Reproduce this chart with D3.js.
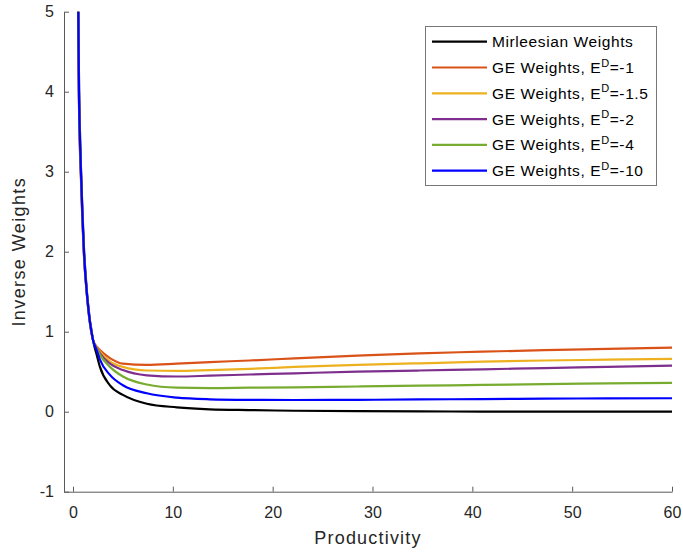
<!DOCTYPE html>
<html>
<head>
<meta charset="utf-8">
<script src="https://cdn.jsdelivr.net/npm/d3@7"></script>
<style>
  html, body { margin: 0; padding: 0; background: #fff; }
  svg { display: block; font-family: "Liberation Sans", Arial, sans-serif; }
</style>
</head>
<body>
<svg id="chart" width="683" height="554"></svg>
<script>
// Productivity grid shared by all series
const productivity = [0.45, 0.53, 0.6, 0.7, 0.8, 0.95, 1.1, 1.45, 2.0, 2.4, 2.7, 3.7, 5.0, 7.4, 10.4, 13.7, 17.7, 22.2, 28.5, 34.7, 41, 47.2, 53.5, 60];

// Inverse weights per series
const mirrleesian = [6.8, 5.2, 4.2, 3.5, 3.05, 2.5, 2.05, 1.42, 0.90, 0.70, 0.56, 0.33, 0.21, 0.10, 0.055, 0.03, 0.02, 0.012, 0.006, 0.003, 0.002, 0.001, 0.0, 0.0];
const geEd1   = [6.1, 4.8, 3.85, 3.25, 2.9, 2.36, 1.95, 1.38, 0.90, 0.81, 0.77, 0.67, 0.60, 0.585, 0.60, 0.62, 0.64, 0.667, 0.70, 0.73, 0.75, 0.77, 0.785, 0.80];
const geEd15  = [6.2, 4.85, 3.88, 3.28, 2.93, 2.38, 1.96, 1.38, 0.90, 0.80, 0.75, 0.63, 0.56, 0.515, 0.51, 0.52, 0.535, 0.56, 0.585, 0.605, 0.625, 0.64, 0.65, 0.66];
const geEd2   = [6.3, 4.9, 3.9, 3.3, 2.95, 2.4, 1.97, 1.39, 0.90, 0.79, 0.73, 0.60, 0.52, 0.455, 0.44, 0.45, 0.465, 0.48, 0.50, 0.515, 0.53, 0.545, 0.56, 0.575];
const geEd4   = [6.4, 4.95, 3.95, 3.35, 2.97, 2.42, 1.98, 1.39, 0.90, 0.78, 0.71, 0.56, 0.44, 0.34, 0.30, 0.295, 0.30, 0.305, 0.315, 0.325, 0.335, 0.345, 0.353, 0.36];
const geEd10  = [6.5, 5.0, 4.0, 3.4, 3.0, 2.45, 2.0, 1.4, 0.90, 0.76, 0.65, 0.46, 0.33, 0.23, 0.175, 0.155, 0.148, 0.146, 0.148, 0.153, 0.158, 0.163, 0.166, 0.168];

const seriesNames = ["Mirleesian Weights", "GE Weights, E", "GE Weights, E", "GE Weights, E", "GE Weights, E", "GE Weights, E"];
const seriesSup = ["", "D", "D", "D", "D", "D"];
const seriesSuffix = ["", "=-1", "=-1.5", "=-2", "=-4", "=-10"];
const seriesColors = ["#000000", "#D95319", "#EDB120", "#7E2F8E", "#77AC30", "#0000FF"];
const seriesValues = [mirrleesian, geEd1, geEd15, geEd2, geEd4, geEd10];

const xTicks = [0, 10, 20, 30, 40, 50, 60];
const yTicks = [-1, 0, 1, 2, 3, 4, 5];

const svg = d3.select("#chart");
const plotLeft = 64, plotRight = 672, plotTop = 11.7, plotBottom = 491.7;

const x = d3.scaleLinear().domain([-0.9, 60]).range([plotLeft, plotRight]);
const y = d3.scaleLinear().domain([-1, 5]).range([plotBottom, plotTop]);

const axisColor = "#5a5a5a";
const textColor = "#262626";

svg.append("defs").append("clipPath").attr("id", "plotClip")
  .append("rect").attr("x", plotLeft).attr("y", plotTop)
  .attr("width", plotRight - plotLeft).attr("height", plotBottom - plotTop);

// Series lines
const line = d3.line().x(d => x(d[0])).y(d => y(d[1])).curve(d3.curveMonotoneX);
const plot = svg.append("g").attr("clip-path", "url(#plotClip)");
seriesValues.forEach((vals, i) => {
  plot.append("path")
    .datum(productivity.map((p, k) => [p, vals[k]]))
    .attr("d", line)
    .attr("fill", "none")
    .attr("stroke", seriesColors[i])
    .attr("stroke-width", 2.2)
    .attr("stroke-linejoin", "round");
});

// Axes (ticks point inward, plain hyphen for negatives)
const plain = d => String(d);
const xAxis = d3.axisBottom(x).tickValues(xTicks).tickFormat(plain)
  .tickSizeInner(-5).tickSizeOuter(0).tickPadding(15);
const gx = svg.append("g").attr("transform", `translate(0,${plotBottom})`).call(xAxis);
const yAxis = d3.axisLeft(y).tickValues(yTicks).tickFormat(plain)
  .tickSizeInner(-5).tickSizeOuter(0).tickPadding(10);
const gy = svg.append("g").attr("transform", `translate(${plotLeft},0)`).call(yAxis);

[gx, gy].forEach(g => {
  g.select(".domain").attr("stroke", axisColor).attr("stroke-width", 1);
  g.selectAll(".tick line").attr("stroke", axisColor);
  g.selectAll(".tick text").attr("fill", textColor)
    .style("font-size", "16px")
    .style("font-family", '"Liberation Sans", Arial, sans-serif');
});

// Axis titles
svg.append("text")
  .attr("x", (plotLeft + plotRight) / 2).attr("y", 543.5)
  .attr("text-anchor", "middle")
  .attr("fill", textColor).style("font-size", "18px").style("letter-spacing", "1.2px")
  .text("Productivity");

svg.append("text")
  .attr("transform", `translate(25,${(plotTop + plotBottom) / 2}) rotate(-90)`)
  .attr("text-anchor", "middle")
  .attr("fill", textColor).style("font-size", "18px").style("letter-spacing", "1.4px")
  .text("Inverse Weights");

// Legend
const lg = svg.append("g");
lg.append("rect")
  .attr("x", 425.5).attr("y", 26.5).attr("width", 231).attr("height", 159)
  .attr("fill", "#fff").attr("stroke", "#777").attr("stroke-width", 1);

seriesNames.forEach((name, i) => {
  const cy = 41.7 + i * 25.8;
  lg.append("line")
    .attr("x1", 432).attr("x2", 487).attr("y1", cy).attr("y2", cy)
    .attr("stroke", seriesColors[i]).attr("stroke-width", 2.2);
  const t = lg.append("text")
    .attr("x", 492).attr("y", cy + 5.5)
    .attr("fill", "#000").style("font-size", "15.5px").style("letter-spacing", "0.6px");
  t.append("tspan").text(name);
  if (seriesSup[i]) {
    t.append("tspan").attr("dy", -6.5).style("font-size", "11px").text(seriesSup[i]);
    t.append("tspan").attr("dy", 6.5).text(seriesSuffix[i]);
  }
});
</script>
</body>
</html>
